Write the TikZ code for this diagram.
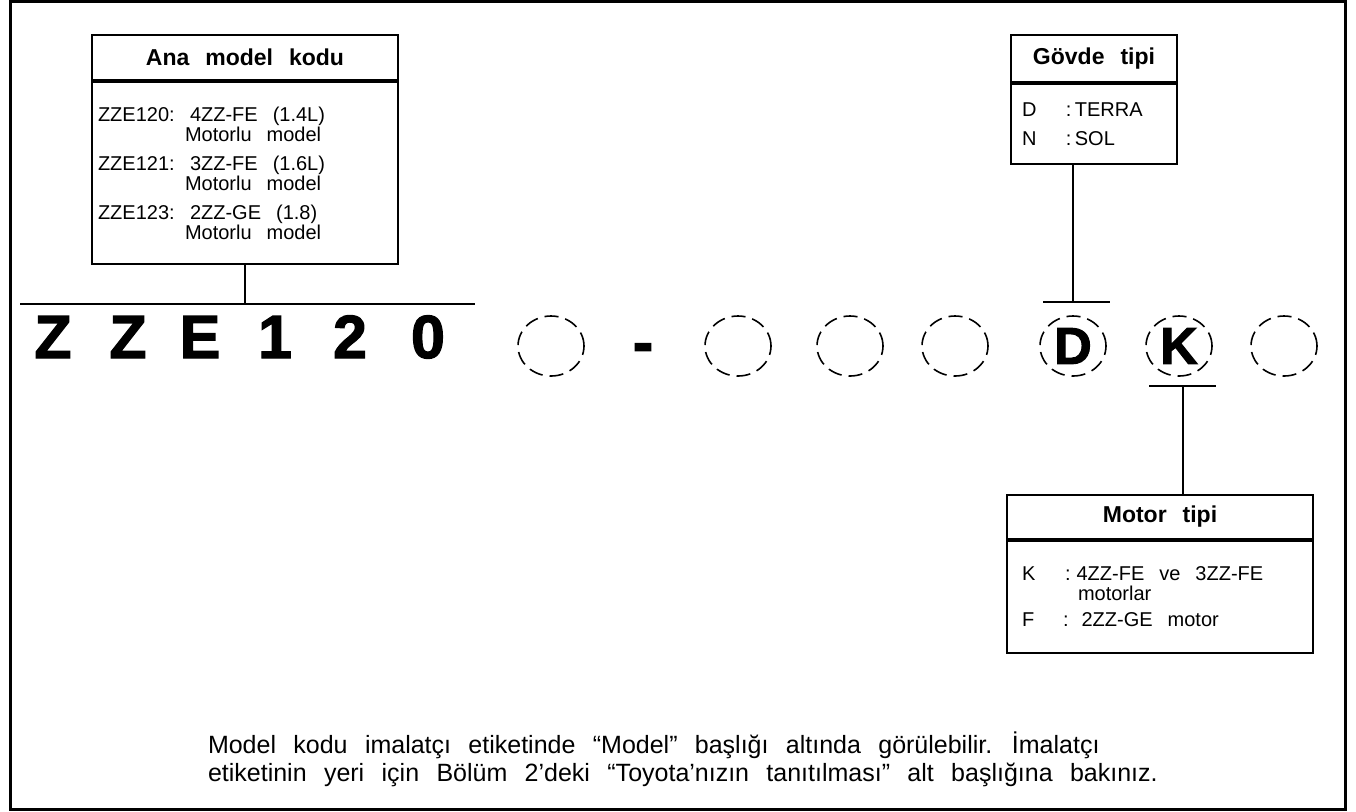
\documentclass[tikz,border=0pt]{standalone}
\usepackage{fontspec}
\setmainfont{Liberation Sans}[WordSpace=2.5]
\newfontfamily\heavyfont{Liberation Sans}[BoldFeatures={FakeBold=2}]
\usetikzlibrary{
    positioning,
    shapes
}

\begin{document}
\begin{tikzpicture}[
  x=0.5pt, y=-0.5pt,
  line width=1pt,
  head/.style={draw, inner sep=0pt, font=\fontsize{11.5}{12}\selectfont\bfseries},
  body/.style={draw, align=left, font=\fontsize{10}{10}\selectfont,
    execute at begin node={\spaceskip=0.75em\relax}},
  codechar/.style={anchor=base, inner sep=0pt, font=\heavyfont\fontsize{30.5}{30}\selectfont\bfseries},
  slot/.style={draw, ellipse, dash pattern=on 7pt off 3.5pt, line width=0.8pt,
    minimum width=33pt, minimum height=30pt, inner sep=0pt,
    font=\heavyfont\fontsize{26}{26}\selectfont\bfseries},
  bar/.style={line width=1.2pt},
  note/.style={align=left, inner sep=0pt, font=\fontsize{12.5}{14}\selectfont}
]

  \useasboundingbox (0,0) rectangle (1356,811);
  \draw[line width=1.5pt] (10,1.5) rectangle (1345,809);

  % Ana model kodu {{{
  \node[
    head,
    minimum width=153pt,
    minimum height=22.5pt
  ] (ana-head) at (245,57.5)
  {Ana model kodu};
  \node[
    body,
    below=0pt of ana-head,
    text width=147pt,
    inner xsep=3pt,
    minimum height=91pt
  ] (ana-body)
  {\makebox[46pt][l]{ZZE120:}4ZZ-FE (1.4L)\\
   \hspace*{43.5pt}Motorlu model\\[4.5pt]
   \makebox[46pt][l]{ZZE121:}3ZZ-FE (1.6L)\\
   \hspace*{43.5pt}Motorlu model\\[4.5pt]
   \makebox[46pt][l]{ZZE123:}2ZZ-GE (1.8)\\
   \hspace*{43.5pt}Motorlu model};
  % }}}

  % Gövde tipi {{{
  \node[
    head,
    minimum width=83pt,
    minimum height=23.5pt
  ] (govde-head) at (1094,58.5)
  {Gövde tipi};
  \node[
    body,
    below=0pt of govde-head,
    text width=72pt,
    inner xsep=5.5pt,
    minimum height=40pt
  ] (govde-body)
  {\makebox[22pt][l]{D}:\,TERRA\\[4.5pt]
   \makebox[22pt][l]{N}:\,SOL};
  % }}}

  % Motor tipi {{{
  \node[
    head,
    minimum width=153pt,
    minimum height=22pt
  ] (motor-head) at (1160,517)
  {Motor tipi};
  \node[
    body,
    below=0pt of motor-head,
    text width=138pt,
    inner xsep=7.5pt,
    minimum height=56pt
  ] (motor-body)
  {\makebox[21.5pt][l]{K}:\hspace{3pt}4ZZ-FE ve 3ZZ-FE\\
   \hspace*{28pt}motorlar\\[3pt]
   \makebox[20.5pt][l]{F}:\hspace{6.5pt}2ZZ-GE motor};
  % }}}

  % model code {{{
  \foreach \ch/\x [count=\i] in {Z/53,Z/128,E/200,1/275,2/350,0/428}
    \node[codechar] (c\i) at (\x,358) {\ch};
  \node[codechar] (dash) at (643,363) {-};
  \foreach \x/\ch [count=\i] in {551/,738/,850/,955/,1073/D,1179/K,1284/}
    \node[slot] (s\i) at (\x,346) {\ch};
  % }}}

  % connectors {{{
  \coordinate (zbar-l) at (20,304);
  \coordinate (zbar-r) at (475,304);
  \coordinate (dbar-l) at (1043,302);
  \coordinate (dbar-r) at (1110,302);
  \coordinate (kbar-l) at (1149,386);
  \coordinate (kbar-r) at (1216,386);
  \coordinate (kbar) at (1183,386);
  \draw[bar] (zbar-l) -- (zbar-r);
  \draw[bar] (dbar-l) -- (dbar-r);
  \draw[bar] (kbar-l) -- (kbar-r);
  \draw (ana-body.south) -- (ana-body.south |- zbar-l);
  \draw (s5 |- govde-body.south) -- (s5 |- dbar-l);
  \draw (kbar) -- (kbar |- motor-head.north);
  % }}}

  \node[note, anchor=west] (note) at (207,759)
  {Model kodu imalatçı etiketinde “Model” başlığı altında görülebilir. İmalatçı\\
   etiketinin yeri için Bölüm 2’deki “Toyota’nızın tanıtılması” alt başlığına bakınız.};

\end{tikzpicture}
\end{document}
